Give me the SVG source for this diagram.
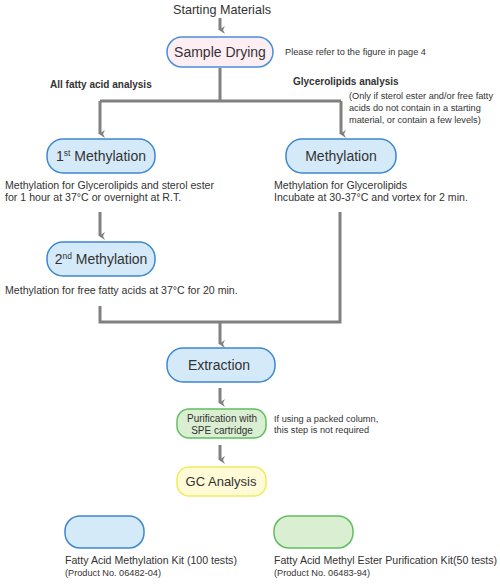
<svg xmlns="http://www.w3.org/2000/svg" width="500" height="584" viewBox="0 0 500 584">
<defs>
<marker id="ah" viewBox="0 0 8 8" refX="4" refY="6" markerWidth="8" markerHeight="8" markerUnits="userSpaceOnUse" orient="auto">
<path d="M0,1 L4,7 L8,1 L4,3 Z" fill="#7f7f7f"/>
</marker>
<style>
text{font-family:"Liberation Sans",Arial,sans-serif;fill:#333}
.c{stroke:#808080;stroke-width:3;fill:none}
.a{marker-end:url(#ah)}
.pink{fill:#fdeef4;stroke:#4b8fd6;stroke-width:1.5}
.blue{fill:#d5eaf8;stroke:#3d87d0;stroke-width:1.5}
.green{fill:#daeed2;stroke:#5fbe5f;stroke-width:1.5}
.yellow{fill:#fefbd6;stroke:#f2ea5e;stroke-width:1.5}
.big{font-size:14px;text-anchor:middle}
.d{font-size:10.6px}
.p{font-size:10px}
.s{font-size:9.2px}
.b{font-size:10px;font-weight:bold}
</style>
</defs>
<g id="connectors">
<path class="c a" d="M220,18 V30"/>
<path class="c" d="M220,68 V101 M100,101 H341"/>
<path class="c a" d="M100,101 V134"/>
<path class="c a" d="M341,101 V134"/>
<path class="c a" d="M100,212 V236"/>
<path class="c" d="M100,306 V322 H340 V212"/>
<path class="c a" d="M220,322 V344"/>
<path class="c a" d="M220,388 V403"/>
<path class="c a" d="M220,445 V460"/>
</g>
<g id="start"><text x="222" y="14" font-size="12.6" text-anchor="middle">Starting Materials</text></g>
<g id="drying">
<rect class="pink" x="167" y="37" width="106" height="30" rx="15"/>
<text class="big" x="220" y="57">Sample Drying</text>
<text class="s" x="285" y="55">Please refer to the figure in page 4</text>
</g>
<g id="labels">
<text class="b" x="50" y="88">All fatty acid analysis</text>
<text class="b" x="293" y="85">Glycerolipids analysis</text>
<text class="s" x="349" y="99">(Only if sterol ester and/or free fatty</text>
<text class="s" x="349" y="111">acids do not contain in a starting</text>
<text class="s" x="349" y="123">material, or contain a few levels)</text>
</g>
<g id="meth1">
<rect class="blue" x="47" y="139" width="108" height="34" rx="16"/>
<text class="big" x="101" y="161">1<tspan font-size="8.5" dy="-5">st</tspan><tspan dy="5"> Methylation</tspan></text>
<text class="d" x="5" y="189">Methylation for Glycerolipids and sterol ester</text>
<text class="d" x="5" y="201">for 1 hour at 37°C or overnight at R.T.</text>
</g>
<g id="meth">
<rect class="blue" x="286" y="139" width="110" height="34" rx="16"/>
<text class="big" x="341" y="161">Methylation</text>
<text class="d" x="274" y="189">Methylation for Glycerolipids</text>
<text class="d" x="274" y="201">Incubate at 30-37°C and vortex for 2 min.</text>
</g>
<g id="meth2">
<rect class="blue" x="47" y="242" width="108" height="34" rx="16"/>
<text class="big" x="101" y="264">2<tspan font-size="8.5" dy="-5">nd</tspan><tspan dy="5"> Methylation</tspan></text>
<text class="d" x="5" y="294">Methylation for free fatty acids at 37°C for 20 min.</text>
</g>
<g id="extraction">
<rect class="blue" x="167" y="348" width="108" height="34" rx="16"/>
<text class="big" x="219" y="370">Extraction</text>
</g>
<g id="purification">
<rect class="green" x="177" y="409" width="89" height="29" rx="12"/>
<text class="p" x="222" y="422" text-anchor="middle">Purification with</text>
<text class="p" x="222" y="434" text-anchor="middle">SPE cartridge</text>
<text class="s" x="274" y="422">If using a packed column,</text>
<text class="s" x="274" y="433">this step is not required</text>
</g>
<g id="gc">
<rect class="yellow" x="177" y="467" width="89" height="29" rx="12"/>
<text x="221" y="486" font-size="13" text-anchor="middle">GC Analysis</text>
</g>
<g id="legend-blue">
<rect class="blue" x="65" y="516" width="79" height="32" rx="15"/>
<text class="d" x="65" y="564">Fatty Acid Methylation Kit (100 tests)</text>
<text class="s" x="65" y="576">(Product No. 06482-04)</text>
</g>
<g id="legend-green">
<rect class="green" x="274" y="516" width="79" height="32" rx="15"/>
<text class="d" x="274" y="564">Fatty Acid Methyl Ester Purification Kit(50 tests)</text>
<text class="s" x="274" y="576">(Product No. 06483-94)</text>
</g>
</svg>
